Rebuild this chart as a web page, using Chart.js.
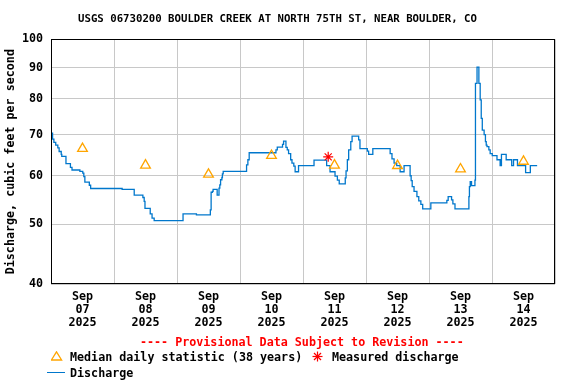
<!DOCTYPE html>
<html>
<head>
<meta charset="utf-8">
<script src="https://cdn.jsdelivr.net/npm/chart.js@4/dist/chart.umd.min.js"></script>
<style>
  html, body { margin: 0; padding: 0; background: #fff; }
  #wrap { position: relative; width: 576px; height: 384px; overflow: hidden; }
  #c { position: absolute; left: 0; top: 0; }
  .t { position: absolute; font-family: 'DejaVu Sans Mono', monospace; font-weight: bold; font-size: 11.7px; line-height: 14px; white-space: pre; color: #000; }
  .ico { position: absolute; }
</style>
</head>
<body>
<div id="wrap">
  <canvas id="c" width="576" height="384"></canvas>
  <div class="t" id="prov" style="left:140px; top:335px; color:#ff0000;">---- Provisional Data Subject to Revision ----</div>
  <svg class="ico" style="left:51px; top:351px;" width="12" height="10"><polygon points="5.5,0.8 10.6,9 0.4,9" fill="none" stroke="#ffa500" stroke-width="1.3"/></svg>
  <div class="t" style="left:70px; top:350px;">Median daily statistic (38 years)</div>
  <svg class="ico" style="left:312px; top:351px;" width="11" height="11"><g stroke="#ff0000" stroke-width="1.2"><line x1="5.5" y1="0.5" x2="5.5" y2="10.5"/><line x1="0.5" y1="5.5" x2="10.5" y2="5.5"/><line x1="2" y1="2" x2="9" y2="9"/><line x1="9" y1="2" x2="2" y2="9"/></g></svg>
  <div class="t" style="left:332px; top:350px;">Measured discharge</div>
  <div class="ico" style="left:47px; top:372px; width:18px; height:0; border-top:1.3px solid #0077cc;"></div>
  <div class="t" style="left:70px; top:366px;">Discharge</div>
</div>
<script>
// ---- data ----
const chartTitle = 'USGS 06730200 BOULDER CREEK AT NORTH 75TH ST, NEAR BOULDER, CO';
const dayMonth = 'Sep';
const dayNumbers = ['07', '08', '09', '10', '11', '12', '13', '14'];
const dayYear = '2025';
const yTickValues = [40, 50, 60, 70, 80, 90, 100];

// discharge: hours since Sep 07 00:00, value (cfs)
const dischargeHours = [
  0, 0.6, 1.1, 1.8, 2.6, 3.1, 3.9, 4.1, 5.7, 7.4, 8.0, 11.0, 12.1, 12.5, 12.9, 14.6, 15.1,
  27.1, 31.7, 35.0, 35.5, 35.8, 37.8, 38.5, 39.3, 50.3, 55.4, 60.7, 61.0, 61.5, 61.75,
  63.3, 64.0, 64.3, 64.6, 65.1, 65.3, 65.6, 74.5, 75.0, 75.5, 85.7, 86.2, 88.2, 88.6,
  89.5, 90.0, 90.5, 91.3, 91.8, 92.5, 93.0, 94.3, 100.2, 105.0, 106.3, 108.2, 109.1, 109.8,
  112.1, 112.4, 112.9, 113.4, 114.2, 114.7, 117.2, 117.7, 120.5, 121.0, 122.6, 129.2, 129.9,
  130.7, 131.7, 133.0, 134.5, 136.8, 137.2, 137.6, 138.3, 139.4, 140.1, 140.9, 141.6, 144.7,
  150.8, 151.3, 152.6, 153.1, 153.9, 159.2, 159.4, 159.7, 160.2, 161.5, 161.7, 162.3, 163.0,
  163.5, 163.9, 164.3, 165.0, 165.5, 165.8, 166.1, 166.8, 167.3, 168.1, 169.9, 171.1, 171.6,
  173.4, 175.5, 176.2, 177.7, 180.8, 182.6, 185.2
];
const dischargeValues = [
  70.4, 68.8, 68.0, 67.3, 66.6, 65.7, 65.0, 64.5, 62.8, 61.9, 61.3, 61.0, 60.6, 59.8, 58.6, 57.9, 57.2,
  57.0, 55.8, 55.3, 54.5, 53.1, 52.0, 51.2, 50.7, 52.0, 51.8, 52.8, 56.4, 56.6, 57.0,
  55.8, 57.3, 58.0, 59.1, 59.6, 60.4, 61.0, 62.5, 63.7, 65.4, 66.1, 66.8, 67.5, 68.3,
  66.7, 66.1, 65.2, 63.7, 62.9, 62.2, 60.9, 62.3, 63.6, 62.3, 60.9, 59.9, 59.0, 58.2,
  59.5, 61.1, 63.7, 66.1, 68.2, 69.6, 68.6, 66.4, 65.8, 65.0, 66.4, 65.2, 63.9,
  62.9, 62.3, 60.9, 62.3, 60.0, 58.9, 57.6, 56.6, 55.5, 54.6, 53.9, 53.0, 54.2,
  54.7, 55.5, 54.8, 54.0, 53.0, 55.5, 57.6, 58.7, 57.8, 59.0, 84.8, 90.1, 84.8,
  79.7, 74.4, 71.2, 70.0, 68.2, 67.3, 66.9, 66.1, 65.2, 64.7, 63.7, 62.3, 65.0,
  63.7, 62.3, 63.7, 62.3, 60.7, 62.3, 62.3
];

// median daily statistic (at noon of each day)
const medianHours = [12, 36, 60, 84, 108, 132, 156, 180];
const medianValues = [66.4, 62.4, 60.3, 64.7, 62.4, 62.3, 61.5, 63.3];

// measured discharge
const measuredHours = [105.6];
const measuredValues = [64.4];

// ---- build ----
const FONT = 'DejaVu Sans Mono';
const xTickHours = [];
for (let h = 0; h <= 192; h += 12) xTickHours.push(h);

const zip = (xs, ys) => xs.map((x, i) => ({ x: x, y: ys[i] }));

const borderPlugin = {
  id: 'plotBorder',
  afterDraw(chart) {
    const a = chart.chartArea, ctx = chart.ctx;
    ctx.save();
    ctx.strokeStyle = '#000';
    ctx.lineWidth = 1;
    const l = Math.round(a.left) + 0.5, t = Math.round(a.top) + 0.5;
    const r = Math.round(a.right) - 0.5, b = Math.round(a.bottom) - 0.5;
    ctx.strokeRect(l, t, r - l, b - t);
    ctx.restore();
  }
};

new Chart(document.getElementById('c'), {
  type: 'line',
  data: {
    datasets: [
      {
        label: 'Median daily statistic (38 years)',
        data: zip(medianHours, medianValues),
        showLine: false,
        pointStyle: 'triangle',
        pointRadius: 5.6,
        pointBorderWidth: 1.3,
        pointBorderColor: '#ffa500',
        pointBackgroundColor: 'rgba(0,0,0,0)',
        order: 1
      },
      {
        label: 'Measured discharge',
        data: zip(measuredHours, measuredValues),
        showLine: false,
        pointStyle: 'star',
        pointRadius: 5,
        pointBorderWidth: 1.2,
        pointBorderColor: '#ff0000',
        pointBackgroundColor: '#ff0000',
        order: 0
      },
      {
        label: 'Discharge',
        data: zip(dischargeHours, dischargeValues),
        borderColor: '#0077cc',
        borderWidth: 1.3,
        pointRadius: 0,
        stepped: true,
        fill: false,
        order: 2
      }
    ]
  },
  options: {
    responsive: false,
    animation: false,
    events: [],
    layout: { padding: { left: 0, right: 21, top: 0, bottom: 50 } },
    plugins: {
      legend: { display: false },
      tooltip: { enabled: false },
      title: {
        display: true,
        text: chartTitle,
        color: '#000',
        font: { family: FONT, weight: 'bold', size: 10.7, lineHeight: 1.2 },
        padding: { top: 13, bottom: 13.5 }
      }
    },
    scales: {
      x: {
        type: 'linear',
        min: 0,
        max: 192,
        afterBuildTicks: (s) => { s.ticks = xTickHours.map(v => ({ value: v })); },
        afterFit: (s) => { s.height = 50; },
        ticks: {
          autoSkip: false,
          maxRotation: 0,
          minRotation: 0,
          padding: 7,
          color: '#000',
          font: { family: FONT, weight: 'bold', size: 11.7, lineHeight: 1.085 },
          callback: (v) => (v % 24 === 12) ? [dayMonth, dayNumbers[(v - 12) / 24], dayYear] : ''
        },
        grid: {
          drawTicks: false,
          lineWidth: 1,
          color: (ctx) => (ctx.tick && ctx.tick.value % 24 === 0) ? '#c8c8c8' : 'rgba(0,0,0,0)'
        },
        border: { display: false }
      },
      y: {
        type: 'logarithmic',
        min: 40,
        max: 100,
        afterBuildTicks: (s) => { s.ticks = yTickValues.map(v => ({ value: v })); },
        afterFit: (s) => { s.width = 51; },
        ticks: {
          padding: 8,
          color: '#000',
          font: { family: FONT, weight: 'bold', size: 11.7 },
          callback: (v) => String(v)
        },
        grid: { drawTicks: false, color: '#c8c8c8', lineWidth: 1 },
        border: { display: false },
        title: {
          display: true,
          text: 'Discharge, cubic feet per second',
          color: '#000',
          font: { family: FONT, weight: 'bold', size: 11.7, lineHeight: 1.2 },
          padding: { top: 4, bottom: 0 }
        }
      }
    }
  },
  plugins: [borderPlugin]
});
</script>
</body>
</html>
